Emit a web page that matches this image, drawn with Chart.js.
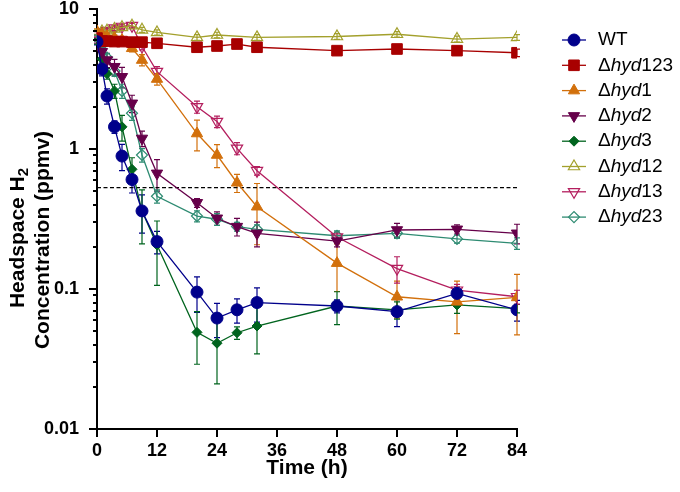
<!DOCTYPE html>
<html>
<head>
<meta charset="utf-8">
<script src="https://cdn.jsdelivr.net/npm/chart.js@4.4.1/dist/chart.umd.min.js"></script>
<style>
  html, body { margin: 0; padding: 0; background: #fff; }
  #wrap { width: 680px; height: 492px; }
</style>
</head>
<body>
<div id="wrap"><canvas id="c"></canvas></div>
<script>
// sampling times (h)
var times = [0, 1, 2, 3.5, 5, 7, 9, 12, 20, 24, 28, 32, 48, 60, 72, 84];

// mean H2 (ppmv), null = not sampled
var wt      = [5.84, 3.73, 2.39, 1.44, 0.89, 0.605, 0.361, 0.218, 0.095, 0.062, 0.071, 0.080, 0.0756, 0.0689, 0.093, 0.071];
var hyd123  = [6.2, 5.9, 5.9, 5.85, 5.85, 5.8, 5.8, 5.69, 5.33, 5.44, 5.62, 5.33, 5.04, 5.18, 5.04, 4.87];
var hyd1    = [6.9, 6.6, 6.4, 6.2, 6.0, 5.24, 4.32, 3.16, 1.29, 0.906, 0.574, 0.387, 0.153, 0.088, 0.081, 0.087];
var hyd2    = [6.0, 4.95, 4.32, 3.87, 3.28, 2.12, 1.19, 0.67, 0.413, 0.32, 0.279, 0.25, 0.22, 0.264, 0.267, 0.25];
var hyd3    = [5.9, 4.4, 3.45, 2.6, 1.44, 0.716, 0.36, 0.206, 0.049, 0.041, 0.0487, 0.0544, 0.0756, 0.071, 0.0769, 0.0725];
var hyd12   = [6.8, 6.9, 7.0, 7.2, 7.4, 7.6, 7.1, 6.8, 6.27, 6.52, null, 6.27, 6.36, 6.6, 6.1, 6.27];
var hyd13   = [6.6, 6.8, 7.0, 7.3, 7.5, 7.6, 5.4, 3.57, 2.0, 1.57, 1.01, 0.7, 0.235, 0.14, 0.098, 0.088];
var hyd23   = [6.2, 5.5, 4.5, 3.6, 2.6, 1.8, 0.906, 0.46, 0.332, 0.315, 0.279, 0.267, 0.24, 0.25, 0.228, 0.212];

// standard deviations (ppmv)
var wtErr     = [0.3, 0.4, 0.3, 0.15, 0.19, 0.12, 0.11, 0.04, 0.027, 0.017, 0.014, 0.022, 0.008, 0.015, 0.01, 0.012];
var hyd123Err = [0.3, 0.2, 0.2, 0.2, 0.2, 0.2, 0.2, 0.2, 0.25, 0.2, 0.25, 0.2, 0.3, 0.3, 0.35, 0.3];
var hyd1Err   = [0.3, 0.3, 0.3, 0.3, 0.3, 0.3, 0.4, 0.3, 0.32, 0.17, 0.085, 0.18, 0.057, 0.026, 0.033, 0.04];
var hyd2Err   = [0.3, 0.4, 0.5, 0.5, 0.55, 0.3, 0.15, 0.17, 0.03, 0.035, 0.04, 0.05, 0.02, 0.03, 0.02, 0.04];
var hyd3Err   = [0.3, 0.4, 0.3, 0.3, 0.3, 0.15, 0.15, 0.1, 0.02, 0.02, 0.005, 0.02, 0.02, 0.01, 0.01, 0.005];
var hyd12Err  = [0.3, 0.3, 0.3, 0.3, 0.3, 0.3, 0.3, 0.3, 0.3, 0.3, null, 0.3, 0.3, 0.3, 0.3, 0.3];
var hyd13Err  = [0.3, 0.3, 0.3, 0.3, 0.3, 0.3, 0.3, 0.3, 0.2, 0.15, 0.1, 0.05, 0.02, 0.03, 0.01, 0.01];
var hyd23Err  = [0.3, 0.3, 0.3, 0.3, 0.3, 0.2, 0.1, 0.05, 0.03, 0.03, 0.02, 0.02, 0.02, 0.02, 0.015, 0.02];

var labels = ['WT', 'Δhyd123', 'Δhyd1', 'Δhyd2', 'Δhyd3', 'Δhyd12', 'Δhyd13', 'Δhyd23'];
var xTicks = [0, 12, 24, 36, 48, 60, 72, 84];
var yMajor = [0.01, 0.1, 1, 10];
var threshold = 0.53;

var FONT = "Arial, 'Liberation Sans', sans-serif";

function pts(vals) {
  return times.map(function (t, i) { return { x: t, y: vals[i] }; });
}

function series(label, vals, err, color, style, rot, r, open) {
  return {
    label: label,
    data: pts(vals),
    err: err,
    borderColor: color,
    backgroundColor: color,
    borderWidth: 1.3,
    pointStyle: style,
    rotation: rot,
    pointRadius: r,
    pointHoverRadius: r,
    pointBackgroundColor: open ? 'rgba(255,255,255,0)' : color,
    pointBorderColor: color,
    pointBorderWidth: open ? 1.2 : 1,
    spanGaps: true,
    tension: 0
  };
}

var datasets = [
  series(labels[0], wt, wtErr, '#00008b', 'circle', 0, 6, false),
  series(labels[1], hyd123, hyd123Err, '#a80000', 'rect', 0, 7.5, false),
  series(labels[2], hyd1, hyd1Err, '#d2700c', 'triangle', 0, 6.5, false),
  series(labels[3], hyd2, hyd2Err, '#66004a', 'triangle', 180, 6.5, false),
  series(labels[4], hyd3, hyd3Err, '#00641e', 'rectRot', 0, 5, false),
  series(labels[5], hyd12, hyd12Err, '#a3a02c', 'triangle', 0, 6.5, true),
  series(labels[6], hyd13, hyd13Err, '#b41e5e', 'triangle', 180, 6.5, true),
  series(labels[7], hyd23, hyd23Err, '#2e8b72', 'rectRot', 0, 5.5, true)
];

datasets.push({
  label: 'limit',
  data: [{ x: 0, y: threshold }, { x: 84, y: threshold }],
  borderColor: '#000',
  borderWidth: 1.2,
  borderDash: [4, 2.5],
  pointRadius: 0,
  fill: false
});

function isMajor(v) {
  return yMajor.some(function (m) { return Math.abs(v - m) < m * 1e-6; });
}

// error bars under the markers
var errorBars = {
  id: 'errorBars',
  beforeDatasetsDraw: function (chart) {
    var ctx = chart.ctx, ys = chart.scales.y;
    ctx.save();
    chart.data.datasets.forEach(function (ds, i) {
      if (!ds.err) return;
      var meta = chart.getDatasetMeta(i);
      ds.data.forEach(function (p, j) {
        if (p.y == null || ds.err[j] == null) return;
        var el = meta.data[j];
        var hi = ys.getPixelForValue(p.y + ds.err[j]);
        var lo = ys.getPixelForValue(Math.max(p.y - ds.err[j], 0.011));
        ctx.strokeStyle = ds.borderColor;
        ctx.lineWidth = 1.2;
        ctx.beginPath();
        ctx.moveTo(el.x, hi); ctx.lineTo(el.x, lo);
        ctx.moveTo(el.x - 3, hi); ctx.lineTo(el.x + 3, hi);
        ctx.moveTo(el.x - 3, lo); ctx.lineTo(el.x + 3, lo);
        ctx.stroke();
      });
    });
    ctx.restore();
  }
};

// tick marks, y title and legend
var decor = {
  id: 'decor',
  afterDraw: function (chart) {
    var ctx = chart.ctx, xs = chart.scales.x, ys = chart.scales.y;
    var a = chart.chartArea;
    ctx.save();
    ctx.strokeStyle = '#000';
    ctx.lineWidth = 2;
    ctx.beginPath();
    ys.ticks.forEach(function (t) {
      var py = Math.round(ys.getPixelForValue(t.value));
      var len = isMajor(t.value) ? 8 : 4;
      ctx.moveTo(a.left - len, py); ctx.lineTo(a.left, py);
    });
    xTicks.forEach(function (v) {
      var px = Math.round(xs.getPixelForValue(v));
      ctx.moveTo(px, a.bottom); ctx.lineTo(px, a.bottom + 8);
    });
    ctx.stroke();

    // y axis title, two lines, H2 with subscript
    ctx.fillStyle = '#000';
    ctx.save();
    ctx.translate(18, 238);
    ctx.rotate(-Math.PI / 2);
    ctx.textBaseline = 'middle';
    ctx.textAlign = 'left';
    var s1 = 'Headspace H';
    ctx.font = 'bold 15px ' + FONT;
    var w2 = ctx.measureText('2').width;
    ctx.font = 'bold 21px ' + FONT;
    var w1 = ctx.measureText(s1).width;
    var x0 = -(w1 + w2) / 2;
    ctx.fillText(s1, x0, 0);
    ctx.font = 'bold 15px ' + FONT;
    ctx.fillText('2', x0 + w1, 6);
    ctx.restore();

    ctx.save();
    ctx.translate(43, 240);
    ctx.rotate(-Math.PI / 2);
    ctx.textBaseline = 'middle';
    ctx.textAlign = 'center';
    ctx.font = 'bold 21px ' + FONT;
    ctx.fillText('Concentration (ppmv)', 0, 0);
    ctx.restore();

    // legend
    var lx = 562, ly = 40, step = 25.3;
    chart.data.datasets.forEach(function (ds, i) {
      if (!ds.err) return;
      var y = ly + i * step;
      ctx.strokeStyle = ds.borderColor;
      ctx.lineWidth = 1.3;
      ctx.beginPath();
      ctx.moveTo(lx, y); ctx.lineTo(lx + 24, y);
      ctx.stroke();
      ctx.fillStyle = ds.pointBackgroundColor;
      ctx.strokeStyle = ds.pointBorderColor;
      ctx.lineWidth = ds.pointBorderWidth;
      Chart.helpers.drawPoint(ctx, {
        pointStyle: ds.pointStyle, rotation: ds.rotation,
        radius: ds.pointRadius, borderWidth: ds.pointBorderWidth
      }, lx + 12, y);

      ctx.fillStyle = '#000';
      ctx.textBaseline = 'middle';
      ctx.textAlign = 'left';
      var tx = lx + 36;
      var lab = ds.label;
      if (lab.indexOf('Δhyd') === 0) {
        ctx.font = '19px ' + FONT;
        ctx.fillText('Δ', tx, y); tx += ctx.measureText('Δ').width;
        ctx.font = 'italic 19px ' + FONT;
        ctx.fillText('hyd', tx, y); tx += ctx.measureText('hyd').width;
        ctx.font = '19px ' + FONT;
        ctx.fillText(lab.slice(4), tx, y);
      } else {
        ctx.font = '19px ' + FONT;
        ctx.fillText(lab, tx, y);
      }
    });
    ctx.restore();
  }
};

new Chart(document.getElementById('c'), {
  type: 'line',
  data: { datasets: datasets },
  plugins: [errorBars, decor],
  options: {
    responsive: true,
    maintainAspectRatio: false,
    animation: false,
    events: [],
    layout: { padding: { left: 0, top: 9, right: 163, bottom: 0 } },
    plugins: { legend: { display: false }, tooltip: { enabled: false } },
    scales: {
      x: {
        type: 'linear',
        min: 0,
        max: 84,
        afterBuildTicks: function (s) {
          s.ticks = xTicks.map(function (v) { return { value: v }; });
        },
        afterFit: function (s) { s.height = 63; },
        grid: { display: false },
        border: { display: true, color: '#000', width: 2 },
        ticks: {
          autoSkip: false,
          maxRotation: 0,
          padding: 3,
          color: '#000',
          font: { family: FONT, size: 18, weight: 'bold' }
        },
        title: {
          display: true,
          text: 'Time (h)',
          color: '#000',
          font: { family: FONT, size: 21, weight: 'bold' },
          padding: { top: 0, bottom: 11 }
        }
      },
      y: {
        type: 'logarithmic',
        min: 0.01,
        max: 10,
        afterBuildTicks: function (s) {
          var t = [];
          [0.01, 0.1, 1].forEach(function (d) {
            for (var k = 1; k < 10; k++) t.push({ value: +(k * d).toPrecision(3), major: k === 1 });
          });
          t.push({ value: 10, major: true });
          s.ticks = t;
        },
        afterFit: function (s) {
          s.width = 97;
          s.paddingTop = 0;
          s.paddingBottom = 0;
        },
        grid: { display: false },
        border: { display: true, color: '#000', width: 2 },
        ticks: {
          autoSkip: false,
          padding: 10,
          color: '#000',
          font: { family: FONT, size: 18, weight: 'bold' },
          callback: function (v) { return isMajor(v) ? String(v) : ''; }
        }
      }
    }
  }
});
</script>
</body>
</html>
